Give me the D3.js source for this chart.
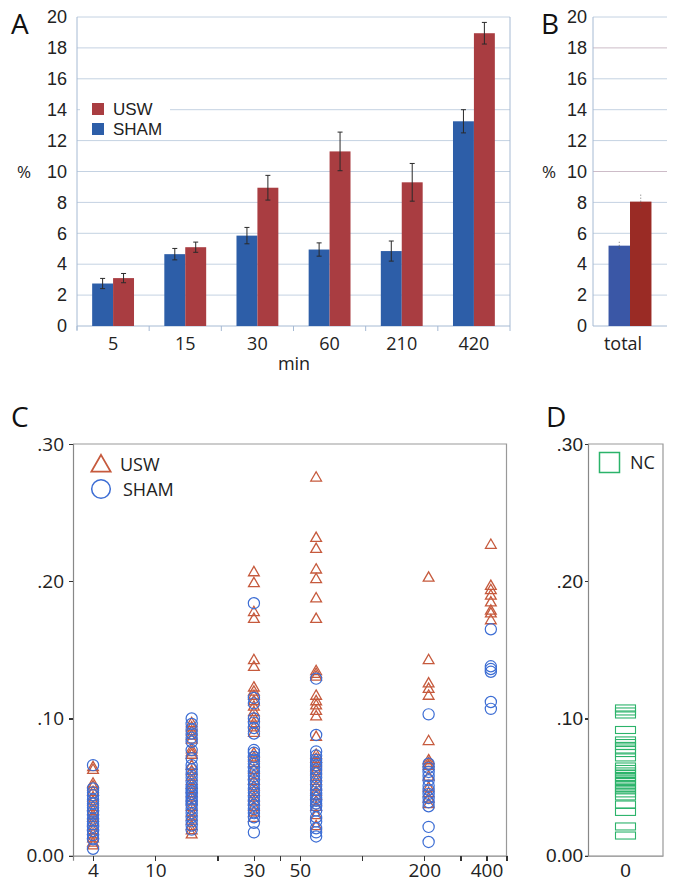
<!doctype html>
<html>
  <head>
    <meta charset="utf-8">
    <script src="https://cdn.jsdelivr.net/npm/d3@7/dist/d3.min.js"></script>
    <style>
      body { margin: 0; background: #fff; }
      svg { font-family: "Open Sans", "Noto Sans", sans-serif; }
      .tick line { shape-rendering: crispEdges; }
    </style>
  </head>
  <body>
    <svg id="fig" width="673" height="882"></svg>
    <script>
      // ---- panel A / B : percent by time point ----
      const minutes = ["5", "15", "30", "60", "210", "420"];
      const groups = ["SHAM", "USW"];
      const shamPct = [2.75, 4.65, 5.85, 4.95, 4.85, 13.25];
      const uswPct = [3.1, 5.1, 8.95, 11.3, 9.3, 18.95];
      const shamErr = [0.33, 0.37, 0.53, 0.43, 0.65, 0.75];
      const uswErr = [0.3, 0.33, 0.8, 1.25, 1.22, 0.7];
      const totalPct = [5.2, 8.05];
      const totalErr = [0.25, 0.45];
      const pctTicks = [0, 2, 4, 6, 8, 10, 12, 14, 16, 18, 20];

      // ---- panel C : individual values ----
      const cTimes = [5, 15, 30, 60, 210, 420];
      const cTickValues = [5, 10, 20, 30, 40, 50, 100, 200, 300, 400, 500];
      const cTickLabels = ["4", "10", "", "30", "", "50", "", "200", "", "400", ""];
      const ratioTicks = [0, 0.1, 0.2, 0.3];
      const ratioLabels = ["0.00", ".10", ".20", ".30"];
      const uswRatio = [
        [.065, .063, .053, .051, .047, .043, .040, .036, .033, .030, .028, .025, .022, .019, .016, .013, .010, .008],
        [.097, .094, .091, .088, .085, .078, .076, .074, .066, .062, .058, .055, .052, .049, .046, .043, .040, .036, .032, .029, .026, .022, .019, .016],
        [.207, .199, .178, .173, .143, .138, .123, .120, .117, .113, .109, .105, .101, .097, .094, .090, .075, .072, .068, .063, .059, .055, .051, .047, .043, .040, .036, .032, .028],
        [.276, .232, .224, .209, .202, .188, .173, .135, .133, .131, .117, .113, .110, .106, .102, .087, .074, .071, .068, .065, .062, .058, .055, .051, .047, .044, .040, .036, .030, .022],
        [.203, .143, .126, .122, .117, .084, .070, .068, .066, .058, .050, .046, .042, .038],
        [.227, .197, .194, .190, .185, .179, .177, .172]
      ];
      const shamRatio = [
        [.066, .049, .046, .044, .041, .038, .035, .032, .030, .027, .025, .023, .021, .018, .015, .012, .005],
        [.100, .096, .092, .089, .086, .083, .077, .071, .066, .063, .060, .057, .054, .051, .049, .047, .045, .043, .041, .039, .037, .034, .031, .028, .025, .022, .019],
        [.184, .115, .111, .100, .097, .093, .089, .077, .075, .072, .070, .067, .064, .061, .058, .055, .052, .049, .046, .043, .040, .037, .034, .031, .028, .024, .017],
        [.129, .088, .076, .073, .070, .068, .066, .063, .060, .057, .054, .051, .048, .045, .042, .040, .038, .036, .033, .028, .025, .020, .017, .014],
        [.103, .067, .064, .061, .058, .055, .051, .048, .045, .042, .039, .036, .021, .010],
        [.165, .138, .136, .134, .112, .107]
      ];

      // ---- panel D : negative controls ----
      const ncRatio = [.1073, .1051, .1029, .0916, .0840, .0821, .0800, .0774, .0748, .0716,
        .0650, .0632, .0614, .0595, .0574, .0555, .0537, .0516, .0494, .0476, .0454, .0432,
        .0373, .0319, .0213, .0147];

      const svg = d3.select("#fig");
      const gridCol = "#c4d2e2", axisBlue = "#a6bad3";
      const colA = { SHAM: "#2d5ea8", USW: "#a93d41" };
      const colB = { SHAM: "#3a57a6", USW: "#9a2b25" };
      const triCol = "#c65a3d", circCol = "#3c6dd4", ncCol = "#2bb36a";
      const fs = "18px";

      function letter(x, y, t) {
        svg.append("text").attr("x", x).attr("y", y).text(t)
          .style("font-size", "28px").style("fill", "#111");
      }

      // ================= panel A =================
      const yA = d3.scaleLinear().domain([0, 20]).range([326, 17]);
      const xA = d3.scaleBand().domain(minutes).range([77, 510])
        .paddingInner(0.42).paddingOuter(0.21);
      const xA1 = d3.scaleBand().domain(groups).range([0, xA.bandwidth()]);

      const gA = svg.append("g");
      gA.selectAll("line.grid").data(pctTicks.slice(1)).enter().append("line")
        .attr("x1", 77).attr("x2", 510)
        .attr("y1", d => yA(d)).attr("y2", d => yA(d))
        .style("stroke", gridCol).style("stroke-width", 1);
      gA.append("line").attr("x1", 510).attr("x2", 510).attr("y1", yA(20)).attr("y2", yA(0))
        .style("stroke", axisBlue);

      const yAxisA = gA.append("g").attr("transform", "translate(77,0)")
        .call(d3.axisLeft(yA).tickValues(pctTicks).tickSize(0).tickPadding(10));
      yAxisA.select(".domain").attr("d", "M0," + yA(20) + "V" + (yA(0) + 4)).style("stroke", axisBlue);
      yAxisA.selectAll("text").style("font-size", fs).style("fill", "#222");

      const bounds = minutes.map(m => xA(m) - xA.step() * 0.21).concat([510]);
      gA.append("line").attr("x1", 77).attr("x2", 510).attr("y1", yA(0)).attr("y2", yA(0))
        .style("stroke", axisBlue);
      gA.selectAll("line.btick").data(bounds).enter().append("line")
        .attr("x1", d => d).attr("x2", d => d)
        .attr("y1", yA(0)).attr("y2", yA(0) + 5)
        .style("stroke", axisBlue);
      gA.selectAll("text.xl").data(minutes).enter().append("text")
        .attr("x", d => xA(d) + xA.bandwidth() / 2).attr("y", 350)
        .attr("text-anchor", "middle").text(d => d)
        .style("font-size", fs).style("fill", "#222");
      gA.append("text").attr("x", 294).attr("y", 370).attr("text-anchor", "middle")
        .text("min").style("font-size", fs).style("fill", "#222");
      gA.append("text").attr("x", 17).attr("y", 178).text("%")
        .style("font-size", "17px").style("fill", "#222");

      const rowsA = minutes.map((m, i) => ({
        m: m,
        vals: [
          { g: "SHAM", v: shamPct[i], e: shamErr[i] },
          { g: "USW", v: uswPct[i], e: uswErr[i] }
        ]
      }));
      const catA = gA.selectAll("g.cat").data(rowsA).enter().append("g")
        .attr("transform", d => "translate(" + xA(d.m) + ",0)");
      catA.selectAll("rect").data(d => d.vals).enter().append("rect")
        .attr("x", d => xA1(d.g)).attr("width", xA1.bandwidth())
        .attr("y", d => yA(d.v)).attr("height", d => yA(0) - yA(d.v))
        .style("fill", d => colA[d.g]);
      const errA = catA.selectAll("g.err").data(d => d.vals).enter().append("g")
        .attr("transform", d => "translate(" + (xA1(d.g) + xA1.bandwidth() / 2) + ",0)")
        .style("stroke", "#2a2a2a").style("stroke-width", 1);
      errA.append("line").attr("y1", d => yA(d.v + d.e)).attr("y2", d => yA(d.v - d.e));
      errA.append("line").attr("x1", -2.5).attr("x2", 2.5)
        .attr("y1", d => yA(d.v + d.e)).attr("y2", d => yA(d.v + d.e));
      errA.append("line").attr("x1", -2.5).attr("x2", 2.5)
        .attr("y1", d => yA(d.v - d.e)).attr("y2", d => yA(d.v - d.e));

      // legend A
      gA.append("rect").attr("x", 80).attr("y", 100).attr("width", 90).attr("height", 36)
        .style("fill", "#fff");
      const legA = gA.selectAll("g.leg").data(["USW", "SHAM"]).enter().append("g")
        .attr("transform", (d, i) => "translate(92," + (103 + i * 20) + ")");
      legA.append("rect").attr("width", 12).attr("height", 12)
        .style("fill", d => colA[d]);
      legA.append("text").attr("x", 21).attr("y", 12).text(d => d)
        .style("font-family", "'Liberation Sans', Arial, sans-serif")
        .style("font-size", "17px").style("fill", "#222");
      letter(11, 34, "A");

      // ================= panel B =================
      const xB = d3.scaleBand().domain(["total"]).range([593, 667])
        .paddingInner(0.42).paddingOuter(0.21);
      const xB1 = d3.scaleBand().domain(groups).range([0, xB.bandwidth()]);
      const gB = svg.append("g");
      gB.selectAll("line.grid").data(pctTicks.slice(1)).enter().append("line")
        .attr("x1", 593).attr("x2", 667)
        .attr("y1", d => yA(d)).attr("y2", d => yA(d))
        .style("stroke", d => (d === 18 || d === 10) ? "#cdbcc8" : gridCol);
      const yAxisB = gB.append("g").attr("transform", "translate(593,0)")
        .call(d3.axisLeft(yA).tickValues(pctTicks).tickSize(0).tickPadding(6));
      yAxisB.select(".domain").attr("d", "M0," + yA(20) + "V" + yA(0)).style("stroke", axisBlue);
      yAxisB.selectAll("text").style("font-size", fs).style("fill", "#222");
      gB.append("line").attr("x1", 593).attr("x2", 667).attr("y1", yA(0)).attr("y2", yA(0))
        .style("stroke", axisBlue);
      const valsB = groups.map((g, i) => ({ g: g, v: totalPct[i], e: totalErr[i] }));
      gB.selectAll("rect.bar").data(valsB).enter().append("rect")
        .attr("x", d => xB("total") + xB1(d.g)).attr("width", xB1.bandwidth())
        .attr("y", d => yA(d.v)).attr("height", d => yA(0) - yA(d.v))
        .style("fill", d => colB[d.g]);
      gB.selectAll("line.err").data(valsB).enter().append("line")
        .attr("x1", d => xB("total") + xB1(d.g) + xB1.bandwidth() / 2)
        .attr("x2", d => xB("total") + xB1(d.g) + xB1.bandwidth() / 2)
        .attr("y1", d => yA(d.v + d.e)).attr("y2", d => yA(d.v - d.e))
        .style("stroke", "#555").style("stroke-width", 0.8).style("stroke-dasharray", "1,2");
      gB.append("text").attr("x", xB("total") + xB.bandwidth() / 2 - 7).attr("y", 350)
        .attr("text-anchor", "middle").text("total")
        .style("font-size", fs).style("fill", "#222");
      gB.append("text").attr("x", 542).attr("y", 178).text("%")
        .style("font-size", "17px").style("fill", "#222");
      letter(541, 34, "B");

      // ================= panel C =================
      const yC = d3.scaleLinear().domain([0, 0.3]).range([855.7, 444]);
      const xC = d3.scaleLog().domain([4, 500]).range([73, 506.5]);
      const gC = svg.append("g");
      gC.append("path")
        .attr("d", "M73," + yC(0.3) + "H" + xC(500) + "V" + yC(0))
        .style("fill", "none").style("stroke", "#999").style("stroke-width", 1.2);
      const yAxisC = gC.append("g").attr("transform", "translate(73,0)")
        .call(d3.axisLeft(yC).tickValues(ratioTicks).tickFormat((d, i) => ratioLabels[i])
          .tickSize(4).tickPadding(5));
      const xAxisC = gC.append("g").attr("transform", "translate(0," + yC(0) + ")")
        .call(d3.axisBottom(xC).tickValues(cTickValues).tickFormat((d, i) => cTickLabels[i])
          .tickSize(5).tickPadding(3));
      [yAxisC, xAxisC].forEach(a => {
        a.select(".domain").style("stroke", "#888").style("stroke-width", 1.2);
        a.selectAll(".tick line").style("stroke", "#333").style("stroke-width", 1.3);
        a.selectAll("text").style("font-size", "19px").style("fill", "#222")
          .style("font-family", "'Open Sans', sans-serif");
      });

      const triShape = d3.symbol().type(d3.symbolTriangle).size(50);
      const uswPts = [], shamPts = [];
      cTimes.forEach((t, i) => {
        uswRatio[i].forEach(v => uswPts.push({ t: t, v: v }));
        shamRatio[i].forEach(v => shamPts.push({ t: t, v: v }));
      });
      gC.selectAll("path.usw").data(uswPts).enter().append("path")
        .attr("d", triShape)
        .attr("transform", d => "translate(" + xC(d.t) + "," + (yC(d.v) + 1) + ")")
        .style("fill", "none").style("stroke", triCol).style("stroke-width", 1.3);
      gC.selectAll("circle.sham").data(shamPts).enter().append("circle")
        .attr("cx", d => xC(d.t)).attr("cy", d => yC(d.v)).attr("r", 5.6)
        .style("fill", "none").style("stroke", circCol).style("stroke-width", 1.2);

      // legend C
      gC.append("path").attr("d", d3.symbol().type(d3.symbolTriangle).size(160))
        .attr("transform", "translate(101,466)")
        .style("fill", "none").style("stroke", triCol).style("stroke-width", 1.8);
      gC.append("circle").attr("cx", 101).attr("cy", 489).attr("r", 9.3)
        .style("fill", "none").style("stroke", circCol).style("stroke-width", 1.5);
      gC.append("text").attr("x", 120).attr("y", 471).text("USW")
        .style("font-size", fs).style("fill", "#222");
      gC.append("text").attr("x", 123).attr("y", 496).text("SHAM")
        .style("font-size", fs).style("fill", "#222");
      letter(11, 427, "C");

      // ================= panel D =================
      const xD = d3.scaleBand().domain(["0"]).range([588, 663]);
      const gD = svg.append("g");
      gD.append("path")
        .attr("d", "M588," + yC(0.3) + "H663V" + yC(0))
        .style("fill", "none").style("stroke", "#999").style("stroke-width", 1.2);
      const yAxisD = gD.append("g").attr("transform", "translate(588,0)")
        .call(d3.axisLeft(yC).tickValues(ratioTicks).tickFormat((d, i) => ratioLabels[i])
          .tickSize(3).tickPadding(2));
      const xAxisD = gD.append("g").attr("transform", "translate(0," + yC(0) + ")")
        .call(d3.axisBottom(xD).tickSize(0).tickPadding(8));
      [yAxisD, xAxisD].forEach(a => {
        a.select(".domain").style("stroke", "#888").style("stroke-width", 1.2);
        a.selectAll(".tick line").style("stroke", "#333").style("stroke-width", 1.3);
        a.selectAll("text").style("font-size", "19px").style("fill", "#222");
      });
      gD.selectAll("rect.nc").data(ncRatio).enter().append("rect")
        .attr("x", xD("0") + xD.bandwidth() / 2 - 10).attr("width", 20)
        .attr("y", d => yC(d) - 3.5).attr("height", 7)
        .style("fill", "none").style("stroke", ncCol).style("stroke-width", 1.1);
      gD.append("rect").attr("x", 599.5).attr("y", 452.5).attr("width", 20).attr("height", 20)
        .style("fill", "none").style("stroke", ncCol).style("stroke-width", 1.5);
      gD.append("text").attr("x", 630).attr("y", 469).text("NC")
        .style("font-size", fs).style("fill", "#222");
      letter(546, 427, "D");
    </script>
  </body>
</html>
